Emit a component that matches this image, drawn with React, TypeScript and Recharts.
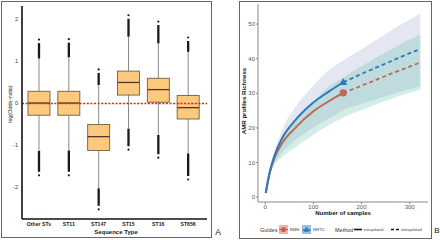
import React from 'react';
import {
  ComposedChart, Bar, XAxis, YAxis, ReferenceLine, Line, Area,
} from 'recharts';

// Panel A: log(odds-ratio) distribution per sequence type
const sequenceTypes = ['Other STs', 'ST11', 'ST147', 'ST15', 'ST16', 'ST656'];
const outlierLow = [-1.71, -1.71, -2.52, -1.1, -1.29, -1.81];
const whiskerLow = [-1.13, -1.12, -2.02, -0.6, -0.75, -1.19];
const q1 = [-0.28, -0.28, -1.12, 0.2, 0.03, -0.37];
const median = [0.01, 0.01, -0.79, 0.5, 0.33, -0.1];
const q3 = [0.29, 0.29, -0.5, 0.77, 0.6, 0.19];
const whiskerHigh = [1.07, 1.1, 0.44, 1.59, 1.43, 1.23];
const outlierHigh = [1.52, 1.53, 0.81, 2.1, 1.95, 1.57];
const oddsTicks = [-2, -1, 0, 1, 2];

// Panel B: rarefaction / extrapolation of AMR profile richness
const samples = [1, 10, 20, 35, 63, 98, 132, 162, 180, 200, 230, 260, 290, 322];
const observedSamples = 162;
const nhtdRichness = [1.2, 7.6, 12.3, 17.0, 22.3, 27.1, 30.5, 33.2, 34.3, 35.6, 37.4, 39.2, 41.0, 42.8];
const nhtdLower = [1.2, 6.6, 10.0, 13.0, 16.5, 19.9, 22.7, 25.0, 26.1, 27.0, 28.3, 29.6, 30.8, 32.0];
const nhtdUpper = [1.2, 8.2, 13.5, 19.4, 26.1, 31.9, 36.7, 39.5, 41.0, 42.7, 45.3, 48.0, 50.5, 53.0];
const bmhRichness = [1.2, 7.4, 11.6, 15.6, 20.1, 24.6, 27.7, 30.1, 31.1, 32.2, 33.9, 35.6, 37.2, 38.9];
const bmhLower = [1.2, 6.5, 9.4, 11.6, 14.5, 17.9, 20.8, 23.0, 24.2, 25.2, 26.8, 28.3, 29.7, 31.0];
const bmhUpper = [1.2, 7.9, 12.8, 17.6, 22.8, 27.5, 31.9, 34.5, 36.2, 37.8, 40.3, 42.6, 44.9, 47.0];
const richnessTicks = [0, 10, 20, 30, 40, 50];
const sampleTicks = [0, 100, 200, 300];

const FONT = '"Liberation Sans", Arial, sans-serif';
const BLUE = '#2b7bba';
const RED = '#c0675a';

const boxRows = sequenceTypes.map((st, i) => ({
  st,
  extent: [outlierLow[i], outlierHigh[i]],
  oLo: outlierLow[i],
  wLo: whiskerLow[i],
  q1: q1[i],
  med: median[i],
  q3: q3[i],
  wHi: whiskerHigh[i],
  oHi: outlierHigh[i],
}));

const curveRows = samples.map((s, i) => ({
  s,
  nhtdInt: s <= observedSamples ? nhtdRichness[i] : null,
  nhtdExt: s >= observedSamples ? nhtdRichness[i] : null,
  bmhInt: s <= observedSamples ? bmhRichness[i] : null,
  bmhExt: s >= observedSamples ? bmhRichness[i] : null,
  nhtdBand: [nhtdLower[i], nhtdUpper[i]],
  bmhBand: [bmhLower[i], bmhUpper[i]],
}));

function BoxShape(props: any) {
  const { x, y, width, height, payload } = props;
  const top = Math.min(y, y + height);
  const bottom = Math.max(y, y + height);
  const lo = payload.oLo;
  const hi = payload.oHi;
  const px = (v: number) => top + ((hi - v) / (hi - lo)) * (bottom - top);
  const cx = x + width / 2;
  return (
    <g>
      <line x1={cx} x2={cx} y1={px(payload.wHi)} y2={px(payload.wLo)} stroke="#8a8a8a" strokeWidth={1} />
      <line x1={cx} x2={cx} y1={px(payload.wHi)} y2={px(payload.oHi) + 3.5} stroke="#1a1a1a" strokeWidth={2.3} />
      <circle cx={cx} cy={px(payload.oHi)} r={1.1} fill="#1a1a1a" />
      <line x1={cx} x2={cx} y1={px(payload.wLo)} y2={px(payload.oLo) - 3.5} stroke="#1a1a1a" strokeWidth={2.3} />
      <circle cx={cx} cy={px(payload.oLo)} r={1.1} fill="#1a1a1a" />
      <rect
        x={x}
        y={px(payload.q3)}
        width={width}
        height={px(payload.q1) - px(payload.q3)}
        fill="#fdc97c"
        stroke="#6e5f45"
        strokeWidth={0.9}
      />
      <line x1={x} x2={x + width} y1={px(payload.med)} y2={px(payload.med)} stroke="#4a3b28" strokeWidth={1.3} />
    </g>
  );
}

const TriangleDot = (p: any) =>
  p.payload.s === observedSamples ? (
    <path
      key={`t-${p.index}`}
      d={`M${p.cx},${p.cy - 4.2} L${p.cx + 4},${p.cy + 2.8} L${p.cx - 4},${p.cy + 2.8} Z`}
      fill={BLUE}
    />
  ) : (
    <g key={`t-${p.index}`} />
  );

const CircleDot = (p: any) =>
  p.payload.s === observedSamples ? (
    <circle key={`c-${p.index}`} cx={p.cx} cy={p.cy} r={3.6} fill={RED} />
  ) : (
    <g key={`c-${p.index}`} />
  );

export default function App() {
  return (
    <div style={{ position: 'absolute', left: 0, top: 0, width: 440, height: 240, background: '#fff', fontFamily: FONT }}>
      {/* panel A */}
      <div style={{ position: 'absolute', left: 1, top: 1, width: 211, height: 237, boxSizing: 'border-box', border: '1px solid #666' }} />
      <div style={{ position: 'absolute', left: 1, top: 1 }}>
        <ComposedChart width={211} height={236} data={boxRows} margin={{ top: 5, right: 5, left: 0, bottom: 0 }}>
          <XAxis
            dataKey="st"
            height={18}
            interval={0}
            padding={{ left: 2, right: 4 }}
            axisLine={{ stroke: '#111', strokeWidth: 1.6 }}
            tickLine={false}
            tickSize={3}
            tickMargin={0}
            tick={{ fontSize: 5.2, fontWeight: 700, fill: '#222', fontFamily: FONT }}
          />
          <YAxis
            type="number"
            width={21}
            domain={[-2.75, 2.32]}
            ticks={oddsTicks}
            allowDataOverflow
            axisLine={{ stroke: '#111', strokeWidth: 1.6 }}
            tickLine={false}
            tickSize={2}
            tickMargin={2}
            tick={{ fontSize: 5.5, fill: '#333', fontFamily: FONT }}
          />
          <Bar dataKey="extent" barSize={22} shape={BoxShape} isAnimationActive={false} />
          <ReferenceLine y={0} stroke="#ee1c1c" strokeWidth={1.4} strokeDasharray="2 1.6" />
        </ComposedChart>
      </div>

      {/* panel B */}
      <div style={{ position: 'absolute', left: 239, top: 1, width: 193, height: 238, boxSizing: 'border-box', border: '1px solid #666' }} />
      <div style={{ position: 'absolute', left: 240, top: 2 }}>
        <ComposedChart width={190} height={235} data={curveRows} margin={{ top: 2, right: 2, left: 0, bottom: 21 }}>
          <XAxis
            dataKey="s"
            type="number"
            domain={[-15, 338]}
            ticks={sampleTicks}
            allowDataOverflow
            height={14}
            axisLine={{ stroke: '#888', strokeWidth: 1 }}
            tickLine={{ stroke: '#888' }}
            tickSize={2}
            tickMargin={1}
            tick={{ fontSize: 6, fill: '#555', fontFamily: FONT }}
          />
          <YAxis
            type="number"
            width={18}
            domain={[-1.4, 55.8]}
            ticks={richnessTicks}
            allowDataOverflow
            axisLine={{ stroke: '#888', strokeWidth: 1 }}
            tickLine={{ stroke: '#888' }}
            tickSize={2}
            tickMargin={1}
            tick={{ fontSize: 6, fill: '#555', fontFamily: FONT }}
          />
          <Area type="monotone" dataKey="nhtdBand" fill="#b8bddb" fillOpacity={0.38} stroke="none" isAnimationActive={false} />
          <Area type="monotone" dataKey="bmhBand" fill="#6cc4b0" fillOpacity={0.3} stroke="none" isAnimationActive={false} />
          <Line type="monotone" dataKey="bmhInt" stroke={RED} strokeWidth={2} dot={CircleDot} activeDot={false} isAnimationActive={false} />
          <Line type="monotone" dataKey="bmhExt" stroke={RED} strokeWidth={1.8} strokeDasharray="4 3" dot={false} activeDot={false} isAnimationActive={false} />
          <Line type="monotone" dataKey="nhtdInt" stroke={BLUE} strokeWidth={2} dot={TriangleDot} activeDot={false} isAnimationActive={false} />
          <Line type="monotone" dataKey="nhtdExt" stroke={BLUE} strokeWidth={1.8} strokeDasharray="4 3" dot={false} activeDot={false} isAnimationActive={false} />
        </ComposedChart>
      </div>

      {/* titles, panel letters and legend of panel B */}
      <svg style={{ position: 'absolute', left: 0, top: 0 }} width={440} height={240} fontFamily={FONT}>
        <text x={116} y={232} textAnchor="middle" dominantBaseline="central" fontSize={6} fontWeight={700} fill="#222">Sequence Type</text>
        <text x={10} y={104} transform="rotate(-90 10 104)" textAnchor="middle" dominantBaseline="central" fontSize={5.4} fill="#222">log(Odds−ratio)</text>
        <text x={218} y={232} textAnchor="middle" dominantBaseline="central" fontSize={8.5} fill="#111">A</text>

        <text x={343} y={213} textAnchor="middle" dominantBaseline="central" fontSize={6} fontWeight={700} fill="#111">Number of samples</text>
        <text x={243.5} y={101} transform="rotate(-90 243.5 101)" textAnchor="middle" dominantBaseline="central" fontSize={6.1} fontWeight={700} fill="#111">AMR profiles Richness</text>
        <text x={437} y={230} textAnchor="middle" dominantBaseline="central" fontSize={8} fill="#111">B</text>

        <text x={260} y={229.5} dominantBaseline="central" fontSize={5.5} fill="#333">Guides</text>
        <rect x={279} y={225} width={9} height={9} fill="#e9b8ad" />
        <line x1={279} x2={288} y1={229.5} y2={229.5} stroke={RED} strokeWidth={1.2} />
        <circle cx={283.5} cy={229.5} r={2.6} fill={RED} />
        <text x={290} y={229.5} dominantBaseline="central" fontSize={4.2} fill="#444">BMH</text>
        <rect x={302} y={225} width={9} height={9} fill="#9cc1e0" />
        <line x1={302} x2={311} y1={230} y2={230} stroke={BLUE} strokeWidth={1.2} />
        <path d="M306.5,226.6 L309.4,231.8 L303.6,231.8 Z" fill={BLUE} />
        <text x={313} y={229.5} dominantBaseline="central" fontSize={4.2} fill="#444">NHTD</text>
        <text x={335} y={229.5} dominantBaseline="central" fontSize={5.5} fill="#333">Method</text>
        <line x1={354} x2={362} y1={229.5} y2={229.5} stroke="#111" strokeWidth={1.6} />
        <text x={363.5} y={229.5} dominantBaseline="central" fontSize={3.8} fill="#444">interpolated</text>
        <line x1={391} x2={399} y1={229.5} y2={229.5} stroke="#111" strokeWidth={1.6} strokeDasharray="3 2" />
        <text x={401} y={229.5} dominantBaseline="central" fontSize={3.8} fill="#444">extrapolated</text>
      </svg>
    </div>
  );
}
